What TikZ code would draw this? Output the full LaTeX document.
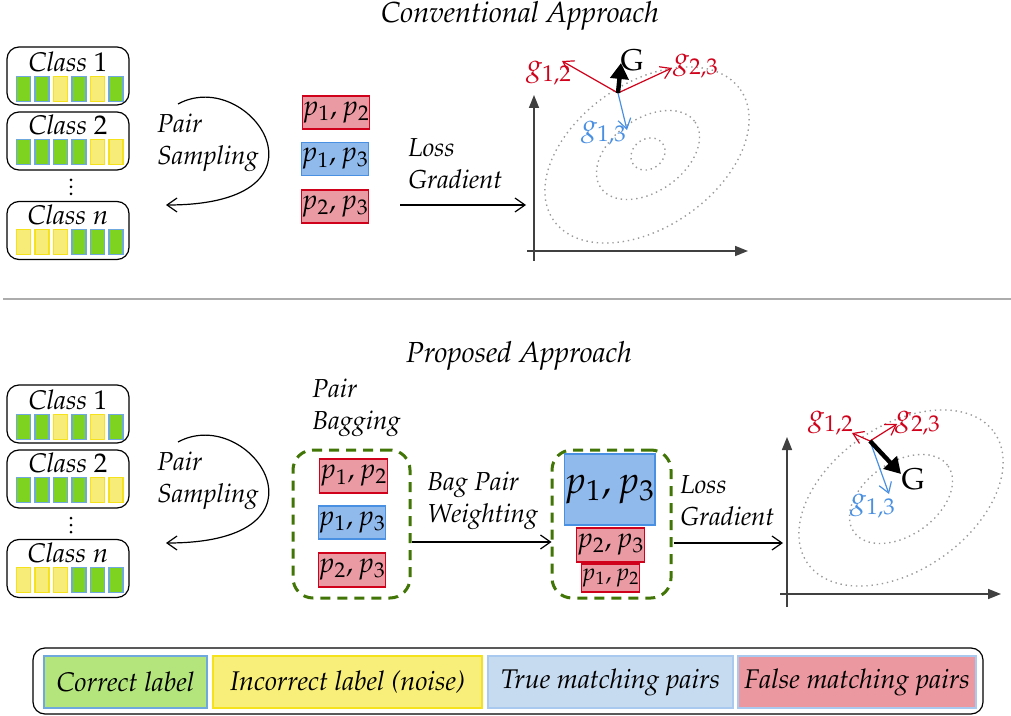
\documentclass[tikz,border=0pt]{standalone}
\usepackage[T1]{fontenc}
\usepackage{mathpazo}
\usetikzlibrary{arrows.meta,calc}

\definecolor{vred}{HTML}{D0021B}
\definecolor{vblue}{HTML}{4A90E2}
\definecolor{redfill}{HTML}{EA9AA3}
\definecolor{bluefill}{HTML}{90B9EC}
\definecolor{sqG}{HTML}{7ED321}
\definecolor{sqGb}{HTML}{6FA8DC}
\definecolor{sqY}{HTML}{F8EC78}
\definecolor{sqYb}{HTML}{F5E21C}
\definecolor{bagc}{HTML}{417505}
\definecolor{axisc}{HTML}{404040}
\definecolor{dotc}{HTML}{9A9A9A}
\definecolor{lgG}{HTML}{B4E57C}
\definecolor{lgY}{HTML}{F8EE7A}
\definecolor{lgB}{HTML}{C7DBF0}
\definecolor{lgR}{HTML}{EB98A0}
\definecolor{lgline}{HTML}{A9C9EE}

\begin{document}
\begin{tikzpicture}[x=0.5pt,y=-0.5pt,
  every node/.style={inner sep=0pt},
  ttl/.style={font=\fontsize{14.5pt}{17pt}\selectfont\itshape},
  lbl/.style={font=\fontsize{13pt}{16pt}\selectfont\itshape, align=left, anchor=west},
  classbox/.style={draw, line width=0.6pt, rounded corners=6pt, minimum width=61pt, minimum height=29pt},
  classlbl/.style={font=\fontsize{13.5pt}{16pt}\selectfont\itshape},
  sq/.style={line width=0.6pt, minimum width=7pt, minimum height=12.5pt},
  dot/.style={circle, fill, minimum size=1.5pt},
  pairbox/.style={line width=0.6pt, font=\fontsize{14pt}{16pt}\selectfont},
  redbox/.style={pairbox, draw=vred, fill=redfill},
  bluebox/.style={pairbox, draw=vblue, fill=bluefill},
  bag/.style={draw=bagc, line width=1.5pt, dash pattern=on 5pt off 3.5pt, rounded corners=10pt, minimum width=58.5pt, minimum height=74pt},
  arr/.style={-{Straight Barb[length=5pt,width=7pt]}, line width=0.6pt},
  axis/.style={-{Triangle[length=6.5pt,width=5pt]}, line width=0.8pt, draw=axisc},
  contour/.style={draw=dotc, line width=0.7pt, dash pattern=on 0.7pt off 1.9pt},
  vec/.style={-{Straight Barb[length=5pt,width=6.5pt]}, line width=0.6pt},
  bigvec/.style={-{Triangle[length=8pt,width=9pt]}, line width=2.2pt},
  vlbl/.style={font=\fontsize{15pt}{17pt}\selectfont},
  lgcell/.style={line width=0.6pt, minimum height=26pt, font=\fontsize{13.5pt}{15pt}\selectfont\itshape}
]
\useasboundingbox (0,0) rectangle (1011,716);

% ---------- class lists and pair sampling (both halves) ----------
\foreach \sec/\dy in {t/0,b/338}{
\begin{scope}[shift={(0,\dy)}]
  \node[classbox] (\sec-c1) at (68,76) {};
  \node[classlbl] (\sec-c1l) at (68,62) {Class $1$};
  \foreach \f/\d [count=\i] in {sqG/sqGb,sqG/sqGb,sqY/sqYb,sqG/sqGb,sqY/sqYb,sqG/sqGb}
    \node[sq, fill=\f, draw=\d] (\sec-c1s\i) at ({5+18.5*\i},89) {};
  \node[classbox] (\sec-c2) at (68,141) {};
  \node[classlbl] (\sec-c2l) at (68,125) {Class $2$};
  \foreach \f/\d [count=\i] in {sqG/sqGb,sqG/sqGb,sqG/sqGb,sqG/sqGb,sqY/sqYb,sqY/sqYb}
    \node[sq, fill=\f, draw=\d] (\sec-c2s\i) at ({5+18.5*\i},152) {};
  \foreach \yy [count=\i] in {180,187,194}
    \node[dot] (\sec-dot\i) at (71,\yy) {};
  \node[classbox] (\sec-cn) at (68,230.5) {};
  \node[classlbl] (\sec-cnl) at (68,215) {Class $n$};
  \foreach \f/\d [count=\i] in {sqY/sqYb,sqY/sqYb,sqY/sqYb,sqG/sqGb,sqG/sqGb,sqG/sqGb}
    \node[sq, fill=\f, draw=\d] (\sec-cns\i) at ({5+18.5*\i},242) {};
  % pair sampling loop
  \coordinate (\sec-a0) at (178,104);
  \coordinate (\sec-a1) at (166,205);
  \draw[arr] (\sec-a0) .. controls (250,65) and (345,205) .. (\sec-a1);
  \node[lbl] (\sec-ps) at (157,142.5) {Pair\\Sampling};
\end{scope}
}

% ---------- conventional approach ----------
\node[ttl] (title1) at (520,16) {Conventional Approach};

\node[redbox, minimum width=33pt, minimum height=16.5pt] (t-p12) at (336,112.5) {$p_1,p_2$};
\node[bluebox, minimum width=33pt, minimum height=16.5pt] (t-p13) at (335,159) {$p_1,p_3$};
\node[redbox, minimum width=33pt, minimum height=16.5pt] (t-p23) at (335,206.5) {$p_2,p_3$};

\node[lbl] (t-loss) at (408,164) {Loss\\Gradient};
\coordinate (t-l0) at (400,205);
\coordinate (t-l1) at (526,205);
\draw[arr] (t-l0) -- (t-l1);

% gradient plot
\coordinate (t-ybot) at (534,261);
\coordinate (t-ytop) at (534,95);
\coordinate (t-xl) at (527,251);
\coordinate (t-xr) at (748,251);
\draw[axis] (t-ybot) -- (t-ytop);
\draw[axis] (t-xl) -- (t-xr);
\draw[contour, rotate around={35:(647,155)}] (647,155) ellipse [x radius=114, y radius=72];
\draw[contour, rotate around={35:(648,155)}] (648,155) ellipse [x radius=57.5, y radius=36.5];
\draw[contour, rotate around={35:(648,154)}] (648,154) ellipse [x radius=18, y radius=15];

\coordinate (t-g0) at (618,93);
\coordinate (t-g12) at (562,61);
\coordinate (t-g23) at (672,68);
\coordinate (t-g13) at (627,130);
\coordinate (t-G) at (621,63);
\draw[vec, vred] (t-g0) -- (t-g12);
\draw[vec, vred] (t-g0) -- (t-g23);
\draw[vec, vblue] (t-g0) -- (t-g13);
\draw[bigvec] (t-g0) -- (t-G);
\node[vlbl, text=vred] (t-l12) at (549,73) {$g_{1,2}$};
\node[vlbl, text=vred] (t-l23) at (696,66) {$g_{2,3}$};
\node[vlbl, text=vblue] (t-l13) at (604,133) {$g_{1,3}$};
\node[vlbl] (t-lG) at (632,60) {G};

% ---------- separator ----------
\coordinate (sep-l) at (3,299);
\coordinate (sep-r) at (1011,299);
\draw[draw=gray!65, line width=1pt] (sep-l) -- (sep-r);

% ---------- proposed approach ----------
\node[ttl] (title2) at (519,356) {Proposed Approach};

\node[lbl] (b-bagl) at (312,407.5) {Pair\\Bagging};
\node[bag] (bag1) at (351.5,524) {};
\node[redbox, minimum width=32.5pt, minimum height=17pt] (b-p12) at (353.5,476) {$p_1,p_2$};
\node[bluebox, minimum width=33pt, minimum height=16.5pt] (b-p13) at (352,522.5) {$p_1,p_3$};
\node[redbox, minimum width=33pt, minimum height=17pt] (b-p23) at (352,570) {$p_2,p_3$};

\node[lbl] (b-wl) at (427,501) {Bag Pair\\Weighting};
\draw[arr] ($(bag1.east)+(0,18)$) -- ($(bag1.east)+(140,18)$) coordinate (b-w1);

\node[bag, minimum width=59.5pt] (bag2) at (611.5,524) {};
\node[bluebox, minimum width=43.5pt, minimum height=35.5pt, font=\fontsize{19pt}{21pt}\selectfont] (b-q13) at (609.5,489.5) {$p_1,p_3$};
\node[redbox, minimum width=32.5pt, minimum height=17pt] (b-q23) at (610.5,545) {$p_2,p_3$};
\node[redbox, minimum width=28.5pt, minimum height=14pt, font=\fontsize{12pt}{13pt}\selectfont] (b-q12) at (610.5,578) {$p_1,p_2$};

\node[lbl] (b-loss) at (680,501) {Loss\\Gradient};
\coordinate (b-l1) at (783,543);
\draw[arr] ($(bag2.east)+(1,19)$) -- (b-l1);

% gradient plot
\coordinate (b-ybot) at (787,607);
\coordinate (b-ytop) at (787,437);
\coordinate (b-xl) at (780,594);
\coordinate (b-xr) at (1001,594);
\draw[axis] (b-ybot) -- (b-ytop);
\draw[axis] (b-xl) -- (b-xr);
\draw[contour, rotate around={35:(901,498)}] (901,498) ellipse [x radius=114, y radius=72];
\draw[contour, rotate around={35:(901,499)}] (901,499) ellipse [x radius=57.5, y radius=36.5];

\coordinate (b-g0) at (870,441);
\coordinate (b-g12) at (852,433);
\coordinate (b-g23) at (897,424);
\coordinate (b-g13) at (889,494);
\coordinate (b-G) at (901,474);
\draw[vec, vred] (b-g0) -- (b-g12);
\draw[vec, vred] (b-g0) -- (b-g23);
\draw[vec, vblue] (b-g0) -- (b-g13);
\draw[bigvec] (b-g0) -- (b-G);
\node[vlbl, text=vred] (b-l12) at (831,423) {$g_{1,2}$};
\node[vlbl, text=vred] (b-l23) at (918,423) {$g_{2,3}$};
\node[vlbl, text=vblue] (b-l13) at (873,506) {$g_{1,3}$};
\node[vlbl] (b-lG) at (913,479) {G};

% ---------- legend ----------
\node[draw, line width=0.6pt, rounded corners=6pt, minimum width=475pt, minimum height=33pt] (legend) at (508,681) {};
\node[lgcell, fill=lgG, draw=sqGb, minimum width=81.5pt] (lg1) at (125.5,682) {Correct label};
\node[lgcell, fill=lgY, draw=sqYb, minimum width=134.5pt] (lg2) at (347.5,682) {Incorrect label (noise)};
\node[lgcell, fill=lgB, draw=lgline, minimum width=122.5pt] (lg3) at (610.5,682) {True matching pairs};
\node[lgcell, fill=lgR, draw=lgline, minimum width=119pt] (lg4) at (857,682) {False matching pairs};
\end{tikzpicture}
\end{document}
